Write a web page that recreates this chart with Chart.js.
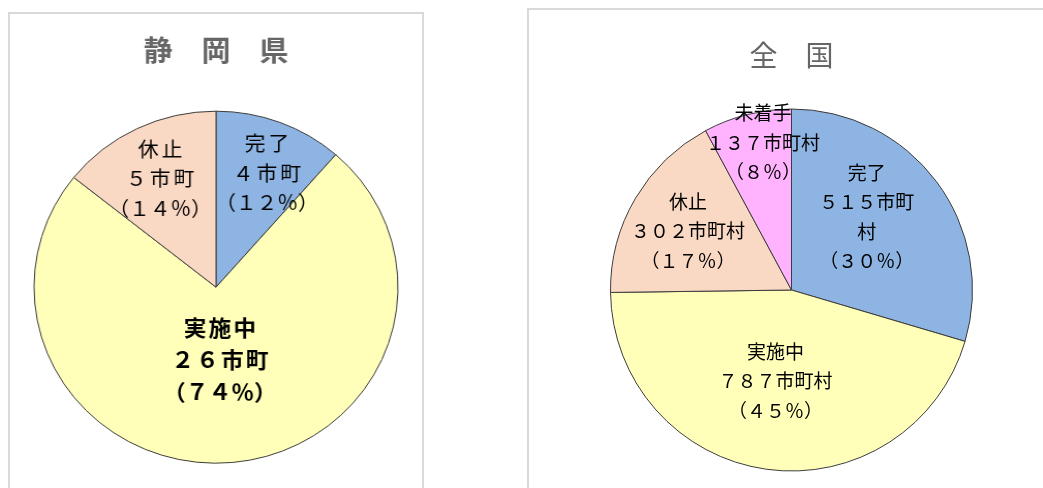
<!DOCTYPE html>
<html lang="ja">
<head>
<meta charset="utf-8">
<script src="https://cdn.jsdelivr.net/npm/chart.js@4/dist/chart.umd.min.js"></script>
<style>
  html, body { margin: 0; padding: 0; background: #fff; }
  body { position: relative; width: 1043px; height: 488px; overflow: hidden; }
  .panel { position: absolute; border: 2px solid #d9d9d9; background: #fff; }
  #panel-pref { left: 8px; top: 12px; width: 412px; height: 520px; }
  #panel-nation { left: 527px; top: 8px; width: 600px; height: 520px; }
  canvas { position: absolute; }
  #chart-pref { left: 10px; top: 14px; transform: scaleX(1.034); }
  #chart-nation { left: 529px; top: 10px; }
</style>
</head>
<body>
<div class="panel" id="panel-pref"></div>
<div class="panel" id="panel-nation"></div>
<canvas id="chart-pref" width="412" height="474"></canvas>
<canvas id="chart-nation" width="525" height="478"></canvas>
<script>
// 静岡県
const prefTitle = "静　岡　県";
const prefLabels = ["完了", "実施中", "休止"];
const prefCounts = [4, 26, 5];
const prefPct = [12, 74, 14];
const prefUnit = "市町";

// 全国
const nationTitle = "全　国";
const nationLabels = ["完了", "実施中", "休止", "未着手"];
const nationCounts = [515, 787, 302, 137];
const nationPct = [30, 45, 17, 8];
const nationUnit = "市町村";

const COLORS = ["#8db4e2", "#ffffb9", "#f9d8c4", "#ffb3ff"];
const FONT = "'Noto Sans CJK JP', 'Noto Sans', sans-serif";

// half-width digits and % -> full-width
const wide = s => String(s).replace(/[0-9%]/g, c => String.fromCharCode(c.charCodeAt(0) + 0xFEE0));

function sliceLines(labels, counts, pct, unit, wrap) {
  return labels.map((name, i) => {
    const mid = wide(counts[i]) + unit;
    const out = [name];
    if (wrap[i] && mid.length > wrap[i]) {
      out.push(mid.slice(0, wrap[i]), mid.slice(wrap[i]));
    } else {
      out.push(mid);
    }
    out.push("（" + wide(pct[i] + "%") + "）");
    return out;
  });
}

// text block inside each slice; place = [angle from 12 o'clock in deg, fraction of radius]
function sliceText(lines, place, styles) {
  return {
    id: "sliceText",
    afterDatasetsDraw(chart) {
      const ctx = chart.ctx;
      const arcs = chart.getDatasetMeta(0).data;
      ctx.save();
      ctx.fillStyle = "#000";
      ctx.textAlign = "center";
      ctx.textBaseline = "middle";
      arcs.forEach((arc, i) => {
        const st = styles[i];
        const a = place[i][0] * Math.PI / 180;
        const x = arc.x + Math.sin(a) * arc.outerRadius * place[i][1];
        const y = arc.y - Math.cos(a) * arc.outerRadius * place[i][1];
        ctx.font = `${st.weight} ${st.size}px ${FONT}`;
        const n = lines[i].length;
        lines[i].forEach((t, j) => {
          // the percentage line sits tighter than the name/count lines
          const sp = j === n - 1 ? 0 : st.spacing;
          ctx.letterSpacing = sp + "px";
          ctx.fillText(t, x + sp / 2, y + (j - (n - 1) / 2) * st.lh);
        });
      });
      ctx.restore();
    }
  };
}

function makePie(id, title, titleWeight, titlePad, bottomPad, labels, counts, textPlugin) {
  return new Chart(document.getElementById(id), {
    type: "pie",
    data: {
      labels: labels,
      datasets: [{
        data: counts,
        backgroundColor: COLORS.slice(0, counts.length),
        borderColor: "#3c3c3c",
        borderWidth: 1
      }]
    },
    options: {
      responsive: false,
      animation: false,
      events: [],
      layout: { padding: { top: 0, bottom: bottomPad, left: 0, right: 0 } },
      plugins: {
        legend: { display: false },
        tooltip: { enabled: false },
        title: {
          display: true,
          text: title,
          color: "#666",
          font: { family: FONT, size: 28, weight: titleWeight },
          padding: titlePad
        }
      }
    },
    plugins: [textPlugin]
  });
}

const normal = { weight: "normal", size: 20, spacing: 3, lh: 29.5 };
const bold = { weight: "bold", size: 22, spacing: 2, lh: 32 };
const small = { weight: "normal", size: 19, spacing: 0, lh: 29.5 };

makePie("chart-pref", prefTitle, "bold", { top: 19.2, bottom: 43.9 }, 24.3,
  prefLabels, prefCounts,
  sliceText(sliceLines(prefLabels, prefCounts, prefPct, prefUnit, []),
    [[23.4, 0.706], [177, 0.415], [-26.4, 0.69]],
    [normal, bold, normal]));

makePie("chart-nation", nationTitle, "normal", { top: 28.2, bottom: 36.7 }, 16.5,
  nationLabels, nationCounts,
  sliceText(sliceLines(nationLabels, nationCounts, nationPct, nationUnit, [5, 0, 0, 0]),
    [[45.8, 0.58], [190, 0.51], [-60.3, 0.658], [-10.9, 0.83]],
    [small, small, small, small]));
</script>
</body>
</html>
